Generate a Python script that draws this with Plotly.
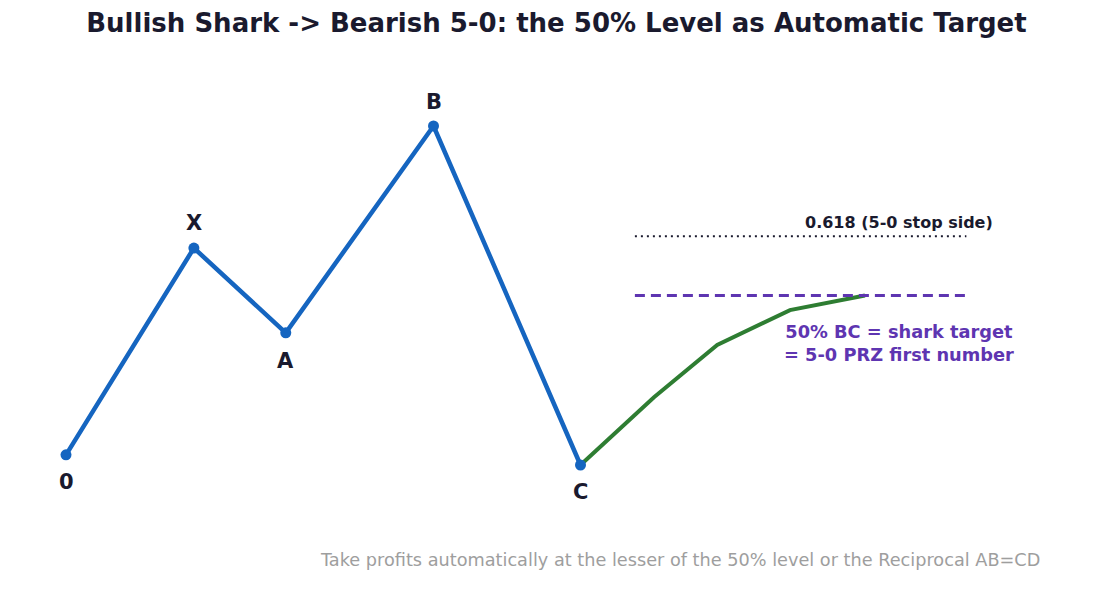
import plotly.graph_objects as go

# Pattern points
labels = ["0", "X", "A", "B", "C"]
px = [0, 1.74, 2.99, 5.0, 7.0]
py = [103, 164, 139, 200, 100]

# Projection from C toward the 50% level
gx = [7.0, 8.0, 8.86, 9.85, 10.87]
gy = [100, 120, 135.4, 145.7, 150]

# Levels
level_x = [7.74, 12.25]
level_50 = 150
level_618 = 167.5

BLUE = "#1565C0"
GREEN = "#2E7D32"
PURPLE = "#5E35B1"
DARK = "#1a1a2e"

fig = go.Figure()
fig.add_trace(go.Scatter(x=gx, y=gy, mode="lines",
                         line=dict(color=GREEN, width=4), hoverinfo="skip"))
fig.add_trace(go.Scatter(x=px, y=py, mode="lines+markers",
                         line=dict(color=BLUE, width=4.5),
                         marker=dict(color=BLUE, size=11), hoverinfo="skip"))
fig.add_trace(go.Scatter(x=level_x, y=[level_50, level_50], mode="lines",
                         line=dict(color=PURPLE, width=3, dash="10px,6px"), hoverinfo="skip"))
fig.add_trace(go.Scatter(x=level_x, y=[level_618, level_618], mode="lines",
                         line=dict(color=DARK, width=2, dash="2px,4px"), hoverinfo="skip"))

shifts = {"0": -27, "X": 25, "A": -28, "B": 24, "C": -27}
for lab, x, y in zip(labels, px, py):
    fig.add_annotation(x=x, y=y, text="<b>" + lab + "</b>", showarrow=False, yshift=shifts[lab],
                       font=dict(family="DejaVu Sans", size=21, color=DARK),
                       xanchor="center", yanchor="middle")

fig.add_annotation(x=11.34, y=level_618, text="<b>0.618 (5-0 stop side)</b>", showarrow=False,
                   yshift=14, font=dict(family="DejaVu Sans", size=16, color=DARK),
                   xanchor="center", yanchor="middle")
fig.add_annotation(x=11.34, y=level_50, text="<b>50% BC = shark target<br>= 5-0 PRZ first number</b>",
                   showarrow=False, yshift=-47,
                   font=dict(family="DejaVu Sans", size=17.8, color=PURPLE),
                   xanchor="center", yanchor="middle", align="center")
fig.add_annotation(x=1042 / 1113, y=1 - 560 / 608, xref="paper", yref="paper",
                   text="Take profits automatically at the lesser of the 50% level or the Reciprocal AB=CD",
                   showarrow=False, font=dict(family="DejaVu Sans", size=17.7, color="#9e9e9e"),
                   xanchor="right", yanchor="middle")

fig.update_layout(
    width=1113, height=608,
    margin=dict(l=0, r=0, t=0, b=0),
    paper_bgcolor="white", plot_bgcolor="white",
    showlegend=False,
    title=dict(text="<b>Bullish Shark -> Bearish 5-0: the 50% Level as Automatic Target</b>",
               x=0.5, xanchor="center", y=1 - 23 / 608, yanchor="middle",
               font=dict(family="DejaVu Sans", size=26, color=DARK)),
    xaxis=dict(range=[-66 / 73.5, (1113 - 66) / 73.5], visible=False),
    yaxis=dict(range=[100 - 143 / 3.39, 100 + 465 / 3.39], visible=False),
)

fig.write_html("out.html")
